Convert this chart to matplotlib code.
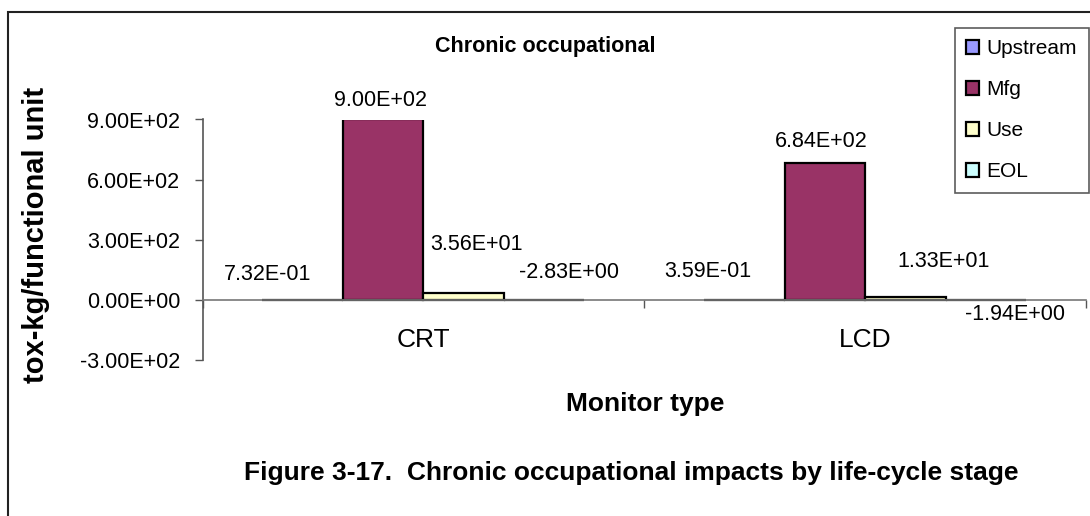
import matplotlib
matplotlib.use("Agg")
import matplotlib.pyplot as plt
from matplotlib.patches import Rectangle
import numpy as np

plt.rcParams['font.family'] = ['Liberation Sans', 'DejaVu Sans']

monitors = ['CRT', 'LCD']
stages = ['Upstream', 'Mfg', 'Use', 'EOL']
upstream = [0.732, 0.359]
mfg = [900.0, 684.0]
use = [35.6, 13.3]
eol = [-2.83, -1.94]
colors = ['#9999FF', '#993366', '#FFFFCC', '#CCFFFF']

# label nudges in pixels (dx, dy from bar end)
nudge = {
    'Upstream': [(-35, 25), (-37, 28)],
    'Mfg': [(-3, 19), (-4, 21)],
    'Use': [(13, 48), (38, 36)],
    'EOL': [(25, 27), (29, -14)],
}

W, H = 1090, 516
fig = plt.figure(figsize=(W / 100, H / 100), dpi=100)
ax = fig.add_axes([202.5 / W, 1 - 360 / H, (1086 - 202.5) / W, (360 - 119.5) / H])

# outer border of the chart area
fig.patches.append(Rectangle((8 / W, -0.1), 1.2, 1 - 12 / H + 0.1, transform=fig.transFigure,
                             fill=False, edgecolor='#222222', linewidth=1.5))

x = np.arange(len(monitors)) + 0.5
w = 0.1823
series = [upstream, mfg, use, eol]
for i, (name, vals) in enumerate(zip(stages, series)):
    xs = x + (i - 1.5) * w
    ax.bar(xs, vals, width=w, color=colors[i], edgecolor='black', linewidth=1.6, label=name)
    for j, v in enumerate(vals):
        dx, dy = nudge[name][j]
        base = max(v, 0) if dy > 0 else min(v, 0)
        ax.annotate('%.2E' % v, (xs[j], base), xytext=(dx, dy), textcoords='offset pixels',
                    ha='center', va='center', fontsize=15.5, annotation_clip=False)

ax.set_xlim(0, 2)
ax.set_ylim(-300, 900)
ax.set_yticks([-300, 0, 300, 600, 900])
ax.set_yticklabels(['%.2E' % t for t in [-300, 0, 300, 600, 900]])
ax.tick_params(axis='y', length=6, width=1, color='#555555', pad=10, labelsize=15.5)

ax.set_xticks([0, 1, 2])
ax.set_xticklabels(['', '', ''])
ax.set_xticks(x, minor=True)
ax.set_xticklabels(monitors, minor=True)
ax.tick_params(axis='x', which='major', length=6, width=1, color='#555555')
ax.tick_params(axis='x', which='minor', length=0, pad=20, labelsize=19)

ax.spines['top'].set_visible(False)
ax.spines['right'].set_visible(False)
ax.spines['bottom'].set_position(('data', 0))
ax.spines['bottom'].set_color('#777777')
ax.spines['left'].set_color('#555555')
ax.spines['bottom'].set_linewidth(1.2)
ax.spines['left'].set_linewidth(1.2)

fig.text(545 / W, 1 - 47 / H, 'Chronic occupational', ha='center', va='center',
         fontsize=15.5, fontweight='bold')
fig.text(36 / W, 1 - 235 / H, 'tox-kg/functional unit', ha='center', va='center',
         rotation=90, fontsize=21, fontweight='bold')
fig.text(645 / W, 1 - 404 / H, 'Monitor type', ha='center', va='center',
         fontsize=19, fontweight='bold')
fig.text(244 / W, 1 - 473 / H, 'Figure 3-17.  Chronic occupational impacts by life-cycle stage',
         ha='left', va='center', fontsize=19, fontweight='bold')

leg = fig.legend(loc='upper left', bbox_to_anchor=(955 / W, 1 - 28 / H), borderaxespad=0,
                 fontsize=15, frameon=True, fancybox=False, handlelength=0.62, handleheight=0.62,
                 handletextpad=0.35, labelspacing=1.05, borderpad=0.55)
leg.get_frame().set_edgecolor('#333333')
leg.get_frame().set_linewidth(1.2)

fig.savefig('out.png', dpi=100)
